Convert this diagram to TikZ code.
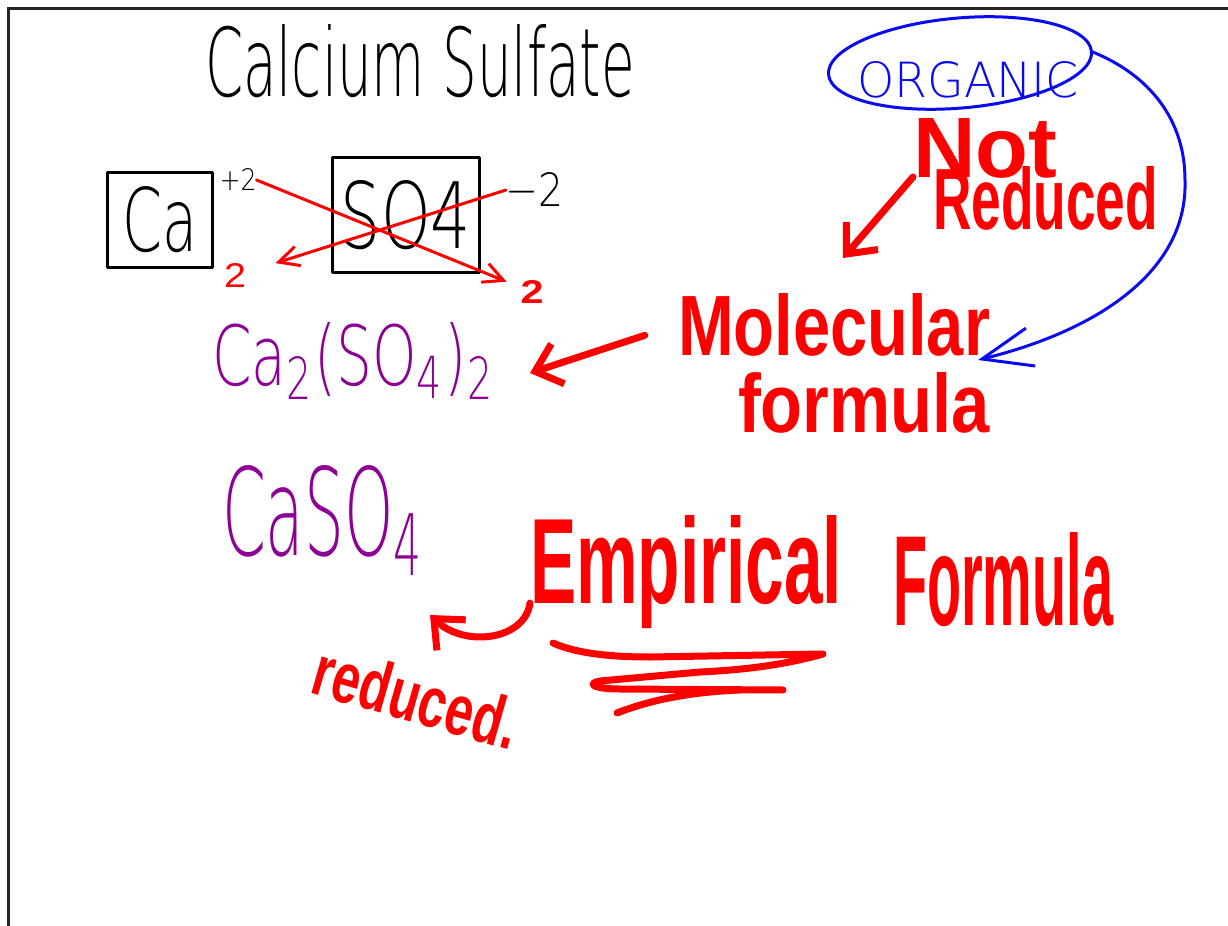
\documentclass[tikz,border=0pt]{standalone}
\usepackage{fontspec}
\setmainfont{Liberation Sans}
\newfontfamily\thinpen{DejaVu Sans ExtraLight}
\usepackage{graphicx}
\usetikzlibrary{arrows.meta,shapes.geometric}
\definecolor{penred}{RGB}{255,0,0}
\definecolor{penblue}{RGB}{10,10,240}
\definecolor{penpurple}{RGB}{140,0,150}
\newlength\pxu
\setlength\pxu{0.02cm}
\newcommand{\handtxt}[3]{\resizebox{#1\pxu}{#2\pxu}{#3}}

\begin{document}
\begin{tikzpicture}[
  x=0.02cm, y=-0.02cm,
  word/.style={inner sep=0pt, outer sep=0pt},
  blackword/.style={word, text=black, font=\thinpen},
  redword/.style={word, text=penred, font=\bfseries},
  purpleword/.style={word, text=penpurple, font=\thinpen},
  blueword/.style={word, text=penblue, font=\thinpen},
  ionbox/.style={draw, line width=3\pxu, inner sep=0pt, line join=round},
  thinarr/.style={-{Straight Barb[length=4mm, width=4mm]}, penred, line width=3\pxu, line cap=round, line join=round},
  bigarr/.style={-{Straight Barb[length=4.8mm, width=8.4mm]}, penred, line width=7\pxu, line cap=round, line join=round},
  bluearr/.style={-{Straight Barb[length=10mm, width=7.8mm]}, penblue, line width=3\pxu, line cap=round},
  scribble/.style={penred, line width=7\pxu, line cap=round, line join=round}
]
\useasboundingbox (0,0) rectangle (1228,926);
\draw[line width=3\pxu, black!85] (8,926) -- (8,9) -- (1228,9);

\node[blackword, anchor=base west] (title) at (205,97) {\handtxt{430}{72}{Calcium Sulfate}};

\node[ionbox, minimum width=105\pxu, minimum height=95\pxu] (ca) at (160,220) {\handtxt{75}{65}{\thinpen Ca}};
\node[ionbox, minimum width=147\pxu, minimum height=114\pxu] (so) at (406,215) {\handtxt{130}{68}{\thinpen SO4}};
\node[blackword] (plus) at (238,180) {\handtxt{37}{22}{+2}};
\node[blackword] (minus) at (535,190) {\handtxt{58}{34}{−2}};

\node[word, text=penred] (twoa) at (235,276) {\handtxt{22}{24}{2}};
\node[redword] (twob) at (532,292) {\handtxt{23}{23}{2}};
\draw[thinarr, shorten >=15\pxu] (plus.east) -- (twob);
\draw[thinarr, shorten >=31\pxu] (minus.west) -- (twoa);

\node[purpleword, anchor=base west] (molec) at (212,385) {\handtxt{283}{63}{Ca\textsubscript{2}(SO\textsubscript{4})\textsubscript{2}}};
\node[purpleword, anchor=base west] (empir) at (222,555) {\handtxt{203}{90}{CaSO\textsubscript{4}}};

\node[word, ellipse, draw=penblue, line width=3\pxu, minimum width=264\pxu, minimum height=90\pxu, rotate=5] (ring) at (960,63) {};
\node[blueword, anchor=base west] (organic) at (857,97) {\handtxt{222}{36}{ORGANIC}};

\node[redword, anchor=base west] (nottxt) at (913,177) {\handtxt{144}{59}{Not}};
\node[redword, anchor=base west] (redtxt) at (933,230) {\handtxt{225}{63}{Reduced}};
\node[redword, anchor=base west] (molecular) at (678,355) {\handtxt{312}{62}{Molecular}};
\node[redword, anchor=base west] (molform) at (738,432) {\handtxt{252}{60}{formula}};
\node[redword, anchor=base west] (empirical) at (530,603) {\handtxt{312}{88}{Empirical}};
\node[redword, anchor=base west] (empform) at (893,625) {\handtxt{220}{93}{Formula}};
\node[redword, rotate=-16] (reduced) at (417,697) {\handtxt{210}{52}{reduced.}};

\coordinate (nottip) at (843,258);
\coordinate (moltip) at (530,373);
\coordinate (emptip) at (430,615);
\coordinate (bluetip) at (978,360);

\draw[bigarr] (nottxt.base west) -- (nottip);
\draw[bigarr, shorten <=35\pxu] (molecular.west) -- (moltip);
\draw[bigarr] (empirical.base west) .. controls (525,640) and (465,648) .. (emptip);
\draw[bluearr] (ring.east) .. controls (1150,75) and (1185,120) .. (1185,180) .. controls (1188,270) and (1100,330) .. (bluetip);

\draw[scribble] (553,643) .. controls (580,655) and (620,657) .. (650,657) -- (823,654) .. controls (780,666) and (740,670) .. (700,672) -- (600,681) .. controls (585,684) and (595,689) .. (620,689) -- (783,690);
\draw[scribble] (617,713) .. controls (650,700) and (690,692) .. (740,690);
\end{tikzpicture}
\end{document}
